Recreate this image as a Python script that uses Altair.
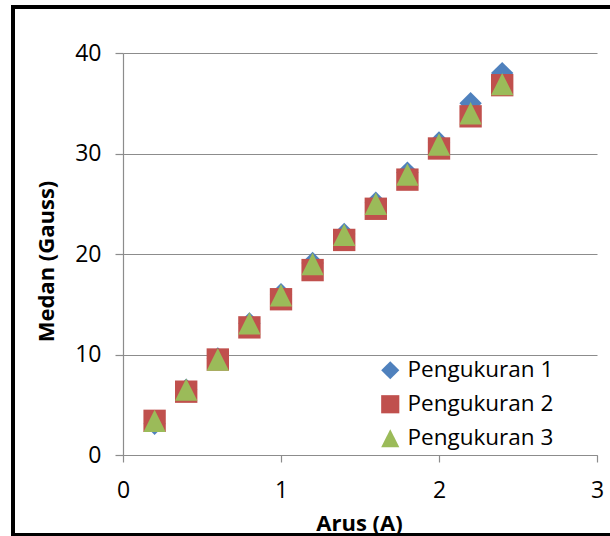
import altair as alt
import pandas as pd

arus = [0.2, 0.4, 0.6, 0.8, 1.0, 1.2, 1.4, 1.6, 1.8, 2.0, 2.2, 2.4]
pengukuran_1 = [3.1, 6.5, 9.6, 13.1, 16.0, 19.1, 22.0, 25.1, 28.1, 31.1, 35.0, 38.0]
pengukuran_2 = [3.4, 6.3, 9.5, 12.7, 15.5, 18.4, 21.4, 24.5, 27.4, 30.5, 33.7, 36.8]
pengukuran_3 = [3.4, 6.5, 9.5, 13.1, 15.9, 19.0, 21.9, 25.0, 27.9, 30.9, 34.0, 36.9]
series_names = ["Pengukuran 1", "Pengukuran 2", "Pengukuran 3"]
x_ticks = [0, 1, 2, 3]
y_ticks = [0, 10, 20, 30, 40]

rows = []
for order, (name, vals) in enumerate(zip(series_names, [pengukuran_1, pengukuran_2, pengukuran_3])):
    for xv, yv in zip(arus, vals):
        rows.append({"Arus": xv, "Medan": yv, "Seri": name, "urut": order})
df = pd.DataFrame(rows)

FONT = "Open Sans"
DIAMOND = "M0,-1L1,0L0,1L-1,0Z"
TRIANGLE = "M0,-1L1,1L-1,1Z"

points = alt.Chart(df).mark_point(filled=True, opacity=1, size=500, strokeWidth=0).encode(
    x=alt.X("Arus:Q", scale=alt.Scale(domain=[0, 3], nice=False),
            axis=alt.Axis(values=x_ticks, title="Arus (A)", grid=False, tickSize=7,
                          labelPadding=17, labelFlush=False, titleX=236, titleY=68,
                          titleBaseline="middle", titleAlign="center", titleFontSize=22)),
    y=alt.Y("Medan:Q", scale=alt.Scale(domain=[0, 40], nice=False),
            axis=alt.Axis(values=y_ticks, title="Medan (Gauss)", grid=True, tickSize=8,
                          labelPadding=14, labelFlush=False, titleX=-77, titleY=208,
                          titleAngle=270, titleBaseline="middle", titleAlign="center",
                          titleFontSize=22)),
    color=alt.Color("Seri:N", scale=alt.Scale(domain=series_names,
                                              range=["#4F81BD", "#C0504D", "#9BBB59"]),
                    legend=alt.Legend(title=None, orient="none", legendX=256, legendY=306,
                                      labelFont=FONT, labelFontSize=22.5, labelColor="#000000",
                                      symbolSize=330, rowPadding=11, labelOffset=6,
                                      symbolStrokeWidth=0)),
    shape=alt.Shape("Seri:N", scale=alt.Scale(domain=series_names,
                                              range=[DIAMOND, "square", TRIANGLE]),
                    legend=alt.Legend(title=None, orient="none", legendX=256, legendY=306)),
    order=alt.Order("urut:Q"),
)

frame = alt.Chart(pd.DataFrame({"a": [0]})).mark_rect(
    fill="transparent", stroke="#000000", strokeWidth=4
).encode(
    x=alt.value(-110), x2=alt.value(500), y=alt.value(-46), y2=alt.value(482)
)

chart = alt.layer(points, frame).properties(
    width=474, height=402,
    autosize=alt.AutoSizeParams(type="none"),
    padding={"left": 123, "top": 53, "right": 13, "bottom": 81},
    background="white",
).configure_view(stroke=None).configure_axis(
    labelFont=FONT, labelFontSize=23, labelColor="#000000",
    titleFont=FONT, titleFontWeight="bold", titleColor="#000000",
    domainColor="#8c8c8c", tickColor="#8c8c8c", gridColor="#8c8c8c",
    domainWidth=1.2, tickWidth=1.2, gridWidth=1.2,
)

chart.save("out.html", embed_options={"renderer": "svg", "actions": False})
